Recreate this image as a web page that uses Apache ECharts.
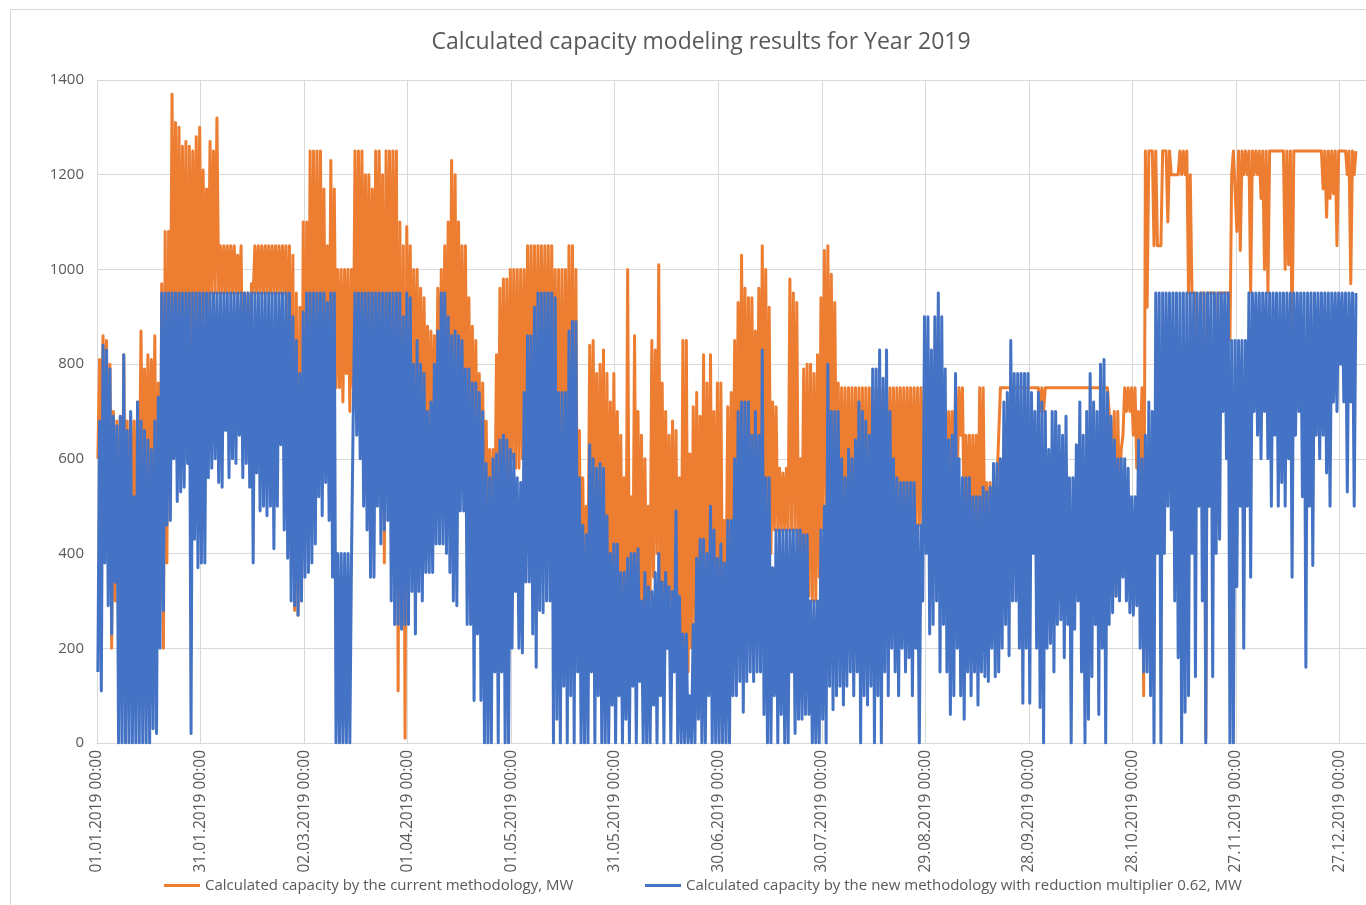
<!DOCTYPE html>
<html>
<head>
<meta charset="utf-8">
<title>Calculated capacity modeling results for Year 2019</title>
<script src="https://cdn.jsdelivr.net/npm/echarts@6/dist/echarts.min.js"></script>
<style>
  html, body { margin: 0; padding: 0; background: #fff; }
  #chart { width: 1366px; height: 905px; }
</style>
</head>
<body>
<div id="chart"></div>
<script>
const seriesNames = [
  'Calculated capacity by the current methodology, MW',
  'Calculated capacity by the new methodology with reduction multiplier 0.62, MW'
];

const tickLabels = [
  '01.01.2019 00:00', '31.01.2019 00:00', '02.03.2019 00:00', '01.04.2019 00:00',
  '01.05.2019 00:00', '31.05.2019 00:00', '30.06.2019 00:00', '30.07.2019 00:00',
  '29.08.2019 00:00', '28.09.2019 00:00', '28.10.2019 00:00', '27.11.2019 00:00',
  '27.12.2019 00:00'
];

// current methodology: daily high
const currentHigh = [
  810, 860, 850, 800, 700, 680, 690, 820, 680, 690,
  680, 720, 870, 790, 820, 810, 860, 760, 970, 1080,
  1080, 1370, 1310, 1300, 1260, 1270, 1260, 1250, 1280, 1300,
  1210, 1170, 1270, 1250, 1320, 1050, 1050, 1050, 1050, 1050,
  1030, 1050, 950, 950, 970, 1050, 1050, 1050, 1050, 1050,
  1050, 1050, 1050, 1050, 1050, 1050, 1030, 950, 920, 1100,
  1100, 1250, 1250, 1250, 1250, 1170, 1050, 1230, 1170, 1000,
  1000, 1000, 1000, 1000, 1250, 1250, 1250, 1200, 1200, 1170,
  1250, 1250, 1200, 1250, 1250, 1250, 1250, 1100, 1050, 1090,
  1050, 1000, 1000, 960, 940, 880, 870, 860, 960, 1000,
  1050, 1100, 1230, 1200, 1100, 1050, 1050, 940, 880, 850,
  780, 760, 680, 620, 620, 820, 960, 980, 980, 1000,
  1000, 1000, 1000, 1000, 1050, 1050, 1050, 1050, 1050, 1050,
  1050, 1050, 1000, 1000, 1000, 1000, 1050, 1050, 1000, 660,
  560, 500, 840, 850, 780, 800, 830, 780, 720, 780,
  700, 650, 560, 1000, 520, 860, 700, 650, 600, 500,
  850, 830, 1010, 760, 700, 650, 680, 660, 560, 850,
  850, 610, 710, 740, 690, 820, 760, 820, 700, 760,
  760, 470, 710, 740, 850, 930, 1030, 960, 940, 940,
  870, 960, 1050, 1000, 920, 720, 710, 580, 570, 580,
  980, 950, 930, 600, 790, 800, 800, 780, 820, 940,
  1040, 1050, 990, 930, 760, 750, 750, 750, 750, 750,
  750, 750, 750, 750, 750, 750, 750, 750, 750, 750,
  750, 750, 750, 750, 750, 750, 750, 750, 750, 750,
  750, 750, 750, 750, 750, 700, 700, 700, 750, 750,
  750, 650, 650, 650, 650, 750, 750, 550, 550, 550,
  550, 750, 750, 750, 750, 750, 750, 750, 750, 750,
  750, 750, 750, 750, 750, 750, 750, 750, 750, 750,
  750, 750, 750, 750, 750, 750, 750, 750, 750, 750,
  750, 750, 750, 700, 700, 700, 620, 750, 750, 750,
  750, 700, 750, 1250, 1250, 1250, 1250, 1050, 1250, 1250,
  1250, 1200, 1200, 1250, 1250, 1250, 1200, 950, 950, 950,
  950, 950, 950, 950, 950, 950, 950, 950, 1200, 1250,
  1250, 1250, 1250, 1250, 1250, 1250, 1250, 1250, 1250, 1250,
  1250, 1250, 1250, 1250, 1250, 1250, 1250, 1250, 1250, 1250,
  1250, 1250, 1250, 1250, 1250, 1250, 1250, 1250, 1250, 1250,
  1250, 1250, 1250, 1250, 1250
];

// current methodology: daily low
const currentLow = [
  600, 650, 600, 500, 200, 300, 320, 300, 300, 300,
  400, 300, 520, 500, 540, 500, 520, 300, 300, 200,
  380, 800, 800, 800, 800, 800, 600, 800, 850, 870,
  870, 900, 900, 950, 950, 950, 950, 950, 950, 950,
  950, 950, 700, 700, 700, 950, 950, 950, 950, 950,
  950, 950, 950, 950, 950, 800, 600, 280, 270, 300,
  500, 600, 700, 700, 700, 700, 700, 700, 700, 750,
  750, 720, 780, 700, 750, 800, 800, 800, 800, 800,
  800, 800, 800, 380, 800, 800, 800, 110, 300, 10,
  700, 650, 650, 650, 600, 600, 600, 600, 650, 650,
  650, 700, 700, 650, 650, 600, 600, 550, 550, 500,
  500, 450, 410, 420, 400, 450, 500, 520, 500, 550,
  600, 580, 580, 600, 600, 600, 600, 600, 600, 620,
  620, 620, 640, 600, 400, 400, 500, 450, 400, 300,
  300, 260, 350, 400, 400, 380, 400, 75, 300, 300,
  300, 300, 250, 250, 250, 300, 300, 300, 250, 250,
  300, 350, 400, 300, 300, 300, 300, 250, 250, 200,
  10, 150, 200, 250, 250, 300, 130, 200, 250, 250,
  230, 230, 300, 350, 400, 450, 500, 500, 500, 500,
  500, 500, 500, 450, 400, 400, 450, 450, 450, 450,
  450, 450, 450, 400, 400, 350, 310, 300, 300, 350,
  450, 500, 500, 500, 500, 500, 450, 410, 400, 450,
  400, 400, 400, 400, 450, 450, 450, 450, 450, 450,
  460, 460, 460, 460, 460, 460, 460, 460, 460, 460,
  460, 400, 400, 400, 400, 550, 550, 550, 550, 550,
  650, 450, 450, 450, 450, 450, 450, 380, 380, 380,
  380, 550, 750, 750, 750, 750, 750, 750, 750, 750,
  750, 750, 750, 700, 700, 750, 750, 750, 750, 750,
  750, 750, 750, 750, 750, 750, 750, 750, 750, 750,
  750, 750, 750, 700, 620, 310, 500, 650, 700, 700,
  650, 580, 580, 100, 920, 1250, 1050, 1050, 1050, 1250,
  1100, 1200, 1200, 1200, 1200, 1200, 950, 950, 950, 610,
  950, 10, 950, 950, 460, 950, 950, 950, 850, 1250,
  1080, 1040, 1200, 1200, 950, 1200, 1200, 1150, 1000, 950,
  1250, 1250, 1250, 1250, 1000, 1010, 840, 1250, 1250, 1250,
  1250, 1250, 1250, 1250, 1250, 1170, 1110, 1150, 1160, 1050,
  1250, 1250, 1200, 970, 1200
];

// new methodology: daily high
const newHigh = [
  680, 840, 830, 790, 690, 670, 690, 820, 660, 700,
  520, 720, 680, 660, 640, 620, 680, 730, 950, 950,
  950, 950, 950, 950, 950, 950, 950, 950, 950, 950,
  950, 950, 950, 950, 950, 950, 950, 950, 950, 950,
  950, 950, 950, 950, 950, 950, 950, 950, 950, 950,
  950, 950, 950, 950, 950, 950, 900, 850, 780, 910,
  950, 950, 950, 950, 950, 950, 930, 950, 950, 400,
  400, 400, 400, 400, 950, 950, 950, 950, 950, 950,
  950, 950, 950, 950, 950, 950, 950, 950, 900, 950,
  940, 800, 850, 800, 780, 700, 720, 800, 870, 950,
  950, 900, 860, 870, 860, 850, 790, 790, 760, 760,
  740, 700, 590, 560, 600, 610, 640, 650, 640, 620,
  610, 560, 550, 740, 860, 860, 920, 950, 950, 950,
  950, 950, 940, 740, 740, 740, 870, 890, 890, 560,
  460, 440, 630, 600, 580, 590, 580, 480, 400, 420,
  420, 360, 360, 390, 400, 400, 410, 300, 360, 330,
  320, 360, 400, 340, 360, 330, 320, 490, 310, 230,
  230, 100, 250, 390, 430, 430, 400, 500, 450, 390,
  420, 380, 470, 470, 600, 700, 720, 720, 720, 650,
  700, 650, 830, 560, 560, 370, 450, 450, 450, 450,
  450, 450, 450, 450, 440, 440, 300, 300, 300, 450,
  500, 800, 700, 700, 700, 600, 560, 620, 600, 640,
  720, 700, 680, 650, 790, 790, 830, 770, 830, 700,
  600, 560, 550, 550, 550, 550, 550, 460, 460, 900,
  900, 830, 900, 950, 900, 790, 640, 650, 780, 600,
  560, 560, 560, 520, 520, 520, 540, 530, 540, 590,
  590, 600, 720, 740, 850, 780, 780, 780, 780, 780,
  740, 700, 740, 720, 700, 620, 700, 700, 670, 650,
  690, 560, 560, 630, 720, 650, 700, 780, 720, 700,
  800, 810, 740, 690, 640, 600, 600, 600, 580, 520,
  520, 640, 600, 650, 720, 700, 950, 950, 950, 950,
  950, 950, 950, 950, 950, 950, 950, 950, 950, 950,
  950, 950, 950, 950, 950, 950, 950, 950, 850, 850,
  850, 850, 850, 950, 950, 950, 950, 950, 950, 950,
  950, 950, 950, 950, 950, 950, 950, 950, 950, 950,
  950, 950, 950, 950, 950, 950, 950, 950, 950, 950,
  950, 950, 950, 950, 950
];

// new methodology: daily low
const newLow = [
  150, 110, 380, 290, 230, 340, 0, 0, 0, 0,
  0, 0, 0, 0, 0, 0, 30, 20, 200, 280,
  460, 470, 600, 510, 530, 540, 590, 20, 430, 370,
  380, 380, 560, 580, 600, 550, 540, 660, 560, 600,
  590, 650, 560, 590, 540, 380, 570, 490, 500, 480,
  500, 410, 500, 630, 450, 390, 300, 290, 270, 300,
  350, 360, 380, 420, 520, 480, 550, 470, 350, 0,
  0, 0, 0, 0, 700, 650, 600, 500, 450, 350,
  350, 500, 420, 450, 470, 300, 250, 250, 240, 250,
  250, 320, 230, 320, 300, 360, 360, 360, 420, 420,
  420, 400, 360, 300, 290, 490, 490, 250, 250, 90,
  230, 90, 0, 0, 0, 150, 0, 150, 0, 0,
  200, 320, 200, 190, 340, 340, 230, 160, 280, 275,
  300, 300, 0, 50, 0, 120, 0, 100, 0, 150,
  0, 0, 0, 150, 0, 100, 0, 0, 0, 80,
  0, 100, 0, 50, 0, 120, 0, 130, 0, 0,
  0, 80, 0, 100, 0, 200, 0, 150, 0, 0,
  0, 0, 0, 0, 50, 0, 0, 100, 0, 0,
  0, 0, 0, 0, 100, 100, 130, 65, 130, 150,
  130, 150, 150, 60, 0, 0, 100, 0, 60, 0,
  0, 150, 20, 50, 50, 60, 60, 0, 0, 0,
  50, 0, 120, 70, 100, 120, 80, 120, 150, 100,
  150, 0, 100, 80, 120, 0, 100, 0, 150, 100,
  200, 150, 100, 200, 150, 180, 100, 200, 0, 300,
  400, 230, 250, 300, 150, 250, 150, 60, 100, 200,
  100, 50, 150, 100, 150, 80, 150, 140, 130, 200,
  140, 150, 200, 250, 184, 300, 300, 200, 84, 200,
  84, 400, 200, 75, 0, 200, 210, 150, 250, 260,
  180, 250, 0, 240, 300, 150, 0, 50, 140, 250,
  60, 200, 0, 250, 275, 310, 300, 350, 300, 275,
  270, 290, 200, 150, 150, 100, 0, 400, 0, 400,
  500, 450, 300, 180, 0, 65, 100, 400, 140, 500,
  300, 0, 500, 140, 400, 430, 700, 600, 0, 0,
  330, 500, 200, 500, 350, 700, 650, 600, 700, 600,
  500, 650, 500, 550, 500, 600, 350, 650, 700, 520,
  160, 500, 375, 650, 600, 650, 570, 500, 720, 700,
  800, 720, 530, 720, 500
];

const fontFamily = '"Open Sans", "Noto Sans", sans-serif';
const textColor = '#595959';
const gridColor = '#D9D9D9';

// each day becomes two hourly points: its low and its high
function dailyRange(low, high) {
  const pts = [];
  low.forEach((lo, d) => {
    pts.push([d * 24 + 6, lo]);
    pts.push([d * 24 + 18, high[d]]);
  });
  return pts;
}

const chart = echarts.init(document.getElementById('chart'), null, { renderer: 'canvas' });

const legendBase = {
  top: 873,
  icon: 'rect',
  itemWidth: 36,
  itemHeight: 3,
  itemGap: 0,
  selectedMode: false,
  textStyle: { color: textColor, fontFamily, fontSize: 15 }
};

chart.setOption({
  animation: false,
  backgroundColor: '#fff',
  title: {
    text: 'Calculated capacity modeling results for Year 2019',
    left: 696,
    top: 26,
    textAlign: 'center',
    textStyle: { color: textColor, fontFamily, fontSize: 23, fontWeight: 'normal' }
  },
  legend: [
    Object.assign({}, legendBase, { left: 159, data: [seriesNames[0]] }),
    Object.assign({}, legendBase, { left: 640, data: [seriesNames[1]] })
  ],
  grid: { left: 97, right: 0, top: 80, bottom: 162 },
  xAxis: {
    type: 'value',
    min: 0,
    max: 8824,
    interval: 720,
    axisLine: { show: true, lineStyle: { color: gridColor } },
    axisTick: { show: false },
    splitLine: { show: true, lineStyle: { color: gridColor } },
    axisLabel: {
      rotate: 90,
      margin: 7,
      color: textColor,
      fontFamily,
      fontSize: 15.5,
      showMaxLabel: false,
      formatter: v => tickLabels[v / 720] || ''
    }
  },
  yAxis: {
    type: 'value',
    min: 0,
    max: 1400,
    interval: 200,
    axisLine: { show: true, lineStyle: { color: gridColor } },
    axisTick: { show: false },
    splitLine: { show: true, lineStyle: { color: gridColor } },
    axisLabel: {
      color: textColor,
      fontFamily,
      fontSize: 15,
      margin: 13,
      formatter: v => String(v)
    }
  },
  graphic: [{
    type: 'rect',
    silent: true,
    shape: { x: 10.5, y: 9.5, width: 1400, height: 1000 },
    style: { fill: 'none', stroke: gridColor, lineWidth: 1 }
  }],
  series: [
    {
      name: seriesNames[0],
      type: 'line',
      symbol: 'none',
      silent: true,
      color: '#ED7D31',
      lineStyle: { width: 3, color: '#ED7D31', join: 'round' },
      data: dailyRange(currentLow, currentHigh)
    },
    {
      name: seriesNames[1],
      type: 'line',
      symbol: 'none',
      silent: true,
      color: '#4472C4',
      lineStyle: { width: 3, color: '#4472C4', join: 'round' },
      data: dailyRange(newLow, newHigh)
    }
  ]
});
</script>
</body>
</html>
